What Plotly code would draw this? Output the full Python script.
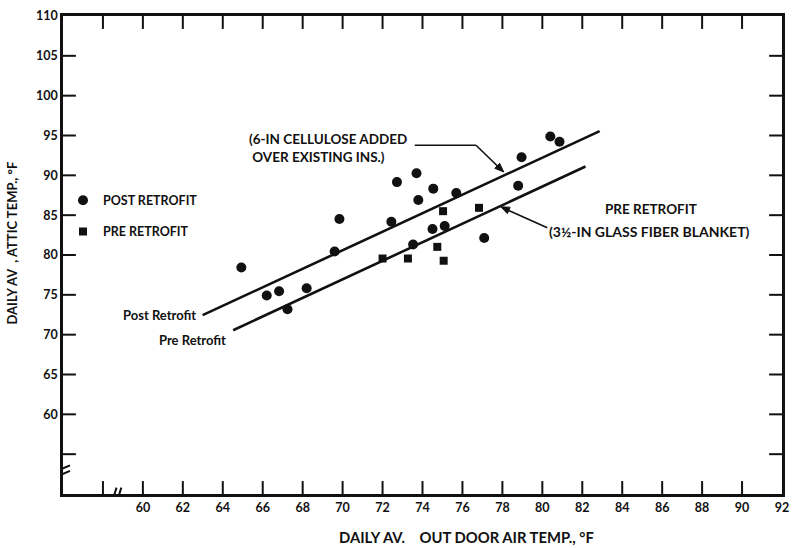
import plotly.graph_objects as go

# Daily average attic temperature vs daily average outdoor air temperature
post_x = [64.93, 66.20, 66.82, 67.24, 68.20, 69.60, 69.84, 72.44, 72.72, 73.70, 73.79,
          73.53, 74.54, 75.69, 74.50, 75.11, 77.09, 78.79, 78.96, 80.40, 80.86]
post_y = [78.44, 74.92, 75.46, 73.18, 75.83, 80.44, 84.51, 84.17, 89.15, 90.27, 86.91,
          81.31, 88.33, 87.78, 83.26, 83.64, 82.14, 88.70, 92.27, 94.88, 94.22]
pre_x = [72.00, 73.27, 75.03, 74.74, 75.06, 76.83]
pre_y = [79.56, 79.56, 85.50, 81.02, 79.28, 85.92]

# fitted lines (end points)
post_fit_x = [62.99, 82.87]
post_fit_y = [72.45, 95.55]
pre_fit_x = [64.52, 82.16]
pre_fit_y = [70.56, 91.11]

x_ticks = list(range(58, 93, 2))
x_labels = ["" if v == 58 else str(v) for v in x_ticks]
y_ticks = list(range(55, 111, 5))
y_labels = ["" if v == 55 else str(v) for v in y_ticks]

X_RANGE = [56, 92]
Y_RANGE = [50, 110]

FONT = "Lato"
INK = "#111111"
BOLD = dict(family=FONT, color=INK, weight="bold")

# inward tick marks on all four sides (13 px long), drawn as one line trace
plot_w, plot_h = 797 - 63 - 8, 548 - 13 - 54
tx = 13 * (X_RANGE[1] - X_RANGE[0]) / plot_w
ty = 13 * (Y_RANGE[1] - Y_RANGE[0]) / plot_h
tick_x, tick_y = [], []
for v in x_ticks:
    if v == X_RANGE[1]:
        continue
    tick_x += [v, v, None, v, v, None]
    tick_y += [Y_RANGE[0], Y_RANGE[0] + ty, None, Y_RANGE[1], Y_RANGE[1] - ty, None]
for v in y_ticks:
    if v == Y_RANGE[1]:
        continue
    tick_x += [X_RANGE[0], X_RANGE[0] + tx, None, X_RANGE[1], X_RANGE[1] - tx, None]
    tick_y += [v, v, None, v, v, None]

fig = go.Figure()
fig.add_trace(go.Scatter(x=tick_x, y=tick_y, mode="lines", connectgaps=False,
                         line=dict(color=INK, width=2), showlegend=False, hoverinfo="skip"))
fig.add_trace(go.Scatter(x=post_fit_x, y=post_fit_y, mode="lines",
                         line=dict(color=INK, width=2.6), showlegend=False, hoverinfo="skip"))
fig.add_trace(go.Scatter(x=pre_fit_x, y=pre_fit_y, mode="lines",
                         line=dict(color=INK, width=2.6), showlegend=False, hoverinfo="skip"))
fig.add_trace(go.Scatter(x=post_x, y=post_y, mode="markers", name="POST RETROFIT",
                         legendgroup="a",
                         marker=dict(symbol="circle", size=10, color=INK)))
fig.add_trace(go.Scatter(x=pre_x, y=pre_y, mode="markers", name="PRE RETROFIT",
                         legendgroup="b",
                         marker=dict(symbol="square", size=8, color=INK)))


def axis_style(rng, vals, text):
    return dict(range=rng, tickvals=vals, ticktext=text,
                showgrid=False, zeroline=False, showline=True, linecolor=INK,
                linewidth=2.6, mirror=True, ticks="",
                tickfont=dict(size=12.5, **BOLD))


def line(x0, y0, x1, y1, w=2, layer="above"):
    return dict(type="line", xref="x", yref="y", x0=x0, y0=y0, x1=x1, y1=y1,
                line=dict(color=INK, width=w), layer=layer)


def head(p1, p2, p3):
    return dict(type="path", xref="x", yref="y",
                path=f"M {p1[0]},{p1[1]} L {p2[0]},{p2[1]} L {p3[0]},{p3[1]} Z",
                fillcolor=INK, line=dict(color=INK, width=1))


shapes = [
    # broken-axis corner: blank out the corner and draw the break marks
    dict(type="rect", xref="x", yref="y", x0=54.5, x1=56.85, y0=48.5, y1=53.1,
         fillcolor="white", line=dict(width=0), layer="above"),
    line(55.85, 53.05, 56.35, 53.6),
    line(55.85, 52.35, 56.35, 52.9),
    line(58.48, 49.2, 58.68, 50.8),
    line(58.72, 49.2, 58.92, 50.8),
    # leader and arrow for the post-retrofit caption
    line(73.61, 93.78, 76.68, 93.78, 1.6),
    line(76.68, 93.78, 77.74, 91.20, 1.6),
    head((78.07, 90.42), (77.62, 90.88), (77.86, 91.51)),
    # arrow for the pre-retrofit caption
    line(80.25, 83.43, 78.32, 85.59, 1.6),
    head((77.92, 86.05), (78.39, 85.99), (78.25, 85.19)),
]

annotations = [
    dict(x=65.2, y=93.41, xref="x", yref="y", xanchor="left", yanchor="middle",
         align="left", showarrow=False,
         text="(6-IN CELLULOSE ADDED<br>\u00a0OVER EXISTING INS.)",
         font=dict(size=13.5, **BOLD)),
    dict(x=85.45, y=85.74, xref="x", yref="y", showarrow=False, text="PRE RETROFIT",
         font=dict(size=13.5, **BOLD)),
    dict(x=85.35, y=83.0, xref="x", yref="y", showarrow=False,
         text="(3\u00bd-IN GLASS FIBER BLANKET)",
         font=dict(size=14, **BOLD)),
    dict(x=post_fit_x[0], y=post_fit_y[0], xref="x", yref="y", xanchor="right",
         yanchor="middle", xshift=-5, showarrow=False, text="Post Retrofit",
         font=dict(size=13, **BOLD)),
    dict(x=pre_fit_x[0], y=pre_fit_y[0], xref="x", yref="y", xanchor="right",
         yanchor="middle", xshift=-5, yshift=-10, showarrow=False, text="Pre Retrofit",
         font=dict(size=13, **BOLD)),
    # axis titles
    dict(x=0.5606, y=-0.0894, xref="paper", yref="paper", showarrow=False,
         xanchor="center", yanchor="middle",
         text="DAILY AV.\u00a0\u00a0\u00a0\u00a0OUT DOOR AIR TEMP., °F",
         font=dict(size=14.8, **BOLD)),
    dict(x=-0.0702, y=0.525, xref="paper", yref="paper", showarrow=False,
         xanchor="center", yanchor="middle", textangle=-90,
         text="DAILY AV\u00a0\u00a0, ATTIC TEMP., °F",
         font=dict(size=13, **BOLD)),
]

fig.update_layout(
    width=797, height=548,
    margin=dict(l=63, r=8, t=13, b=54),
    paper_bgcolor="white", plot_bgcolor="white",
    xaxis=axis_style(X_RANGE, x_ticks, x_labels),
    yaxis=axis_style(Y_RANGE, y_ticks, y_labels),
    shapes=shapes, annotations=annotations,
    legend=dict(x=0.0, y=0.645, xanchor="left", yanchor="top",
                bgcolor="rgba(0,0,0,0)", tracegroupgap=12,
                font=dict(size=12.5, **BOLD)),
    font=dict(family=FONT, color=INK),
)

fig.write_html("out.html")
